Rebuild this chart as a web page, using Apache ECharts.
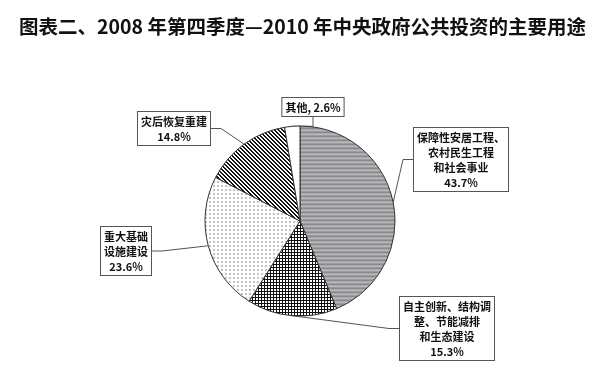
<!DOCTYPE html>
<html>
<head>
<meta charset="utf-8">
<script src="https://cdn.jsdelivr.net/npm/echarts@6/dist/echarts.min.js"></script>
<style>html,body{margin:0;padding:0;background:#fff;}#c{width:600px;height:384px;}</style>
</head>
<body>
<div id="c"></div>
<script>
const titleText = '图表二、2008 年第四季度—2010 年中央政府公共投资的主要用途';
const categories = ['保障性安居工程、\n农村民生工程\n和社会事业', '自主创新、结构调\n整、节能减排\n和生态建设', '重大基础\n设施建设', '灾后恢复重建', '其他'];
const values = [43.7, 15.3, 23.6, 14.8, 2.6];

function makePattern(w, h, draw) {
  const c = document.createElement('canvas');
  c.width = w; c.height = h;
  const g = c.getContext('2d');
  draw(g);
  return { image: c, repeat: 'repeat' };
}
const grayPat = makePattern(1, 4, g => {
  const cols = ['#8a8a8e', '#a9a9ad', '#b9b9bc', '#9b9b9f'];
  cols.forEach((col, i) => { g.fillStyle = col; g.fillRect(0, i, 1, 1); });
});
const checkPat = makePattern(3, 3, g => {
  g.fillStyle = '#111'; g.fillRect(0, 0, 3, 3);
  g.fillStyle = '#fff'; g.fillRect(1, 1, 2, 2);
});
const dotPat = makePattern(4, 4, g => {
  g.fillStyle = '#fff'; g.fillRect(0, 0, 4, 4);
  g.fillStyle = '#c4c4c4'; g.fillRect(1, 1, 2, 2);
});
const stripePat = makePattern(4, 4, g => {
  g.fillStyle = '#fff'; g.fillRect(0, 0, 4, 4);
  g.fillStyle = '#111';
  for (let y = 0; y < 4; y++) { g.fillRect(y % 4, y, 1, 1); g.fillRect((y + 1) % 4, y, 1, 1); }
});
const fills = [grayPat, checkPat, dotPat, stripePat, '#ffffff'];

// label box top-centre positions (layout only)
const labelPos = [[461, 128], [447, 297], [126, 227], [174, 112], [313, 98]];

const chart = echarts.init(document.getElementById('c'), null, { renderer: 'canvas' });
chart.setOption({
  animation: false,
  backgroundColor: '#fff',
  title: {
    text: titleText,
    left: 14, top: 12,
    textStyle: { fontFamily: "'Noto Sans CJK SC', sans-serif", fontSize: 19.5, fontWeight: 'bold', color: '#111' }
  },
  series: [{
    type: 'pie',
    center: [300, 221],
    radius: 95,
    startAngle: 90,
    clockwise: true,
    avoidLabelOverlap: false,
    data: categories.map((n, i) => ({ name: n, value: values[i], itemStyle: { color: fills[i] } })),
    itemStyle: { borderColor: '#333', borderWidth: 1 },
    label: {
      show: true,
      position: 'outside',
      formatter: p => (p.dataIndex === 4 ? p.name + ', ' + p.value + '%' : p.name + '\n' + p.value + '%'),
      fontFamily: "'Noto Sans CJK SC', sans-serif",
      fontSize: 11,
      fontWeight: 'bold',
      lineHeight: 15,
      color: '#111',
      align: 'center',
      backgroundColor: '#fff',
      borderColor: '#555',
      borderWidth: 1,
      padding: [2, 3, 1, 3]
    },
    labelLine: { show: true, length: 10, length2: 10, lineStyle: { color: '#555', width: 1 } },
    labelLayout: p => ({ x: labelPos[p.dataIndex][0], y: labelPos[p.dataIndex][1], align: 'center', verticalAlign: 'top' }),
    emphasis: { disabled: true }
  }]
});
</script>
</body>
</html>
